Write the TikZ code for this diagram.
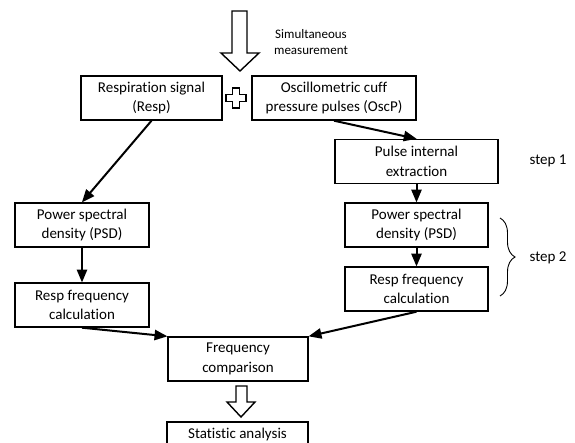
\documentclass[tikz,border=0pt]{standalone}
\usepackage{fontspec}
\setmainfont[Ligatures=NoCommon]{Carlito}
\usepackage{tikz}
\usetikzlibrary{arrows}
\usetikzlibrary{decorations.pathreplacing}
\tikzset{
every node/.style={rectangle, draw, line width=1.4pt, align=center, inner sep=0pt, minimum height=44pt, font=\fontsize{15}{19.5}\selectfont},
plain/.style={draw=none, minimum height=0pt},
link/.style={-triangle 45, line width=2pt},
hollow/.style={draw, fill=white, line width=1.4pt, line join=miter}
}

\begin{document}
\begin{tikzpicture}[x=1pt, y=-1pt]
\useasboundingbox (0,0) rectangle (575,442);

\node [minimum width=141pt] (resp) at (151.5,98) {Respiration signal\\(Resp)};
\node [minimum width=164pt] (oscp) at (334,98) {Oscillometric cuff\\pressure pulses (OscP)};
\node [minimum width=163pt] (pulse) at (416.5,161.5) {Pulse internal\\extraction};
\node [minimum width=143pt] (psdR) at (416.5,225) {Power spectral\\density (PSD)};
\node [minimum width=143pt] (calcR) at (416.5,289) {Resp frequency\\calculation};
\node [minimum width=134pt] (psdL) at (82,225) {Power spectral\\density (PSD)};
\node [minimum width=134pt] (calcL) at (82,305) {Resp frequency\\calculation};
\node [minimum width=140pt] (compare) at (238,359) {Frequency\\comparison};
\node [minimum width=141pt, minimum height=24pt] (stats) at (237.5,434) {Statistic analysis};

\node [plain, font=\fontsize{13}{15.5}\selectfont] (note) at (311,42) {Simultaneous\\measurement};
\node [plain] (step1) at (548,161) {step 1};
\node [plain] (step2) at (548,258) {step 2};

% big arrows and plus sign
\draw [hollow] (232,11) -- (247,11) -- (247,53) -- (259,53) -- (240,71) -- (221,53) -- (232,53) -- cycle;
\draw [hollow] (236,386) -- (247,386) -- (247,402) -- (255,402) -- (241,417) -- (227,402) -- (236,402) -- cycle;
\draw [hollow] (232.5,88) -- (239.5,88) -- (239.5,94.5) -- (246,94.5) -- (246,101.5) -- (239.5,101.5) -- (239.5,108) -- (232.5,108) -- (232.5,101.5) -- (226,101.5) -- (226,94.5) -- (232.5,94.5) -- cycle;

% brace for step 2
\draw [line width=0.9pt, decorate, decoration={brace, amplitude=15pt}] (500,218) -- (500,296);

\draw[link] (resp.south) -- (psdL.north);
\draw[link] (psdL.south) -- (calcL.north);
\draw[link] (oscp.south) -- (pulse.north);
\draw[link] (pulse.south) -- (psdR.north);
\draw[link] (psdR.south) -- (calcR.north);
\draw[link] (calcL.south) -- (compare.north west);
\draw[link] (calcR.south) -- (compare.north east);
\end{tikzpicture}
\end{document}
